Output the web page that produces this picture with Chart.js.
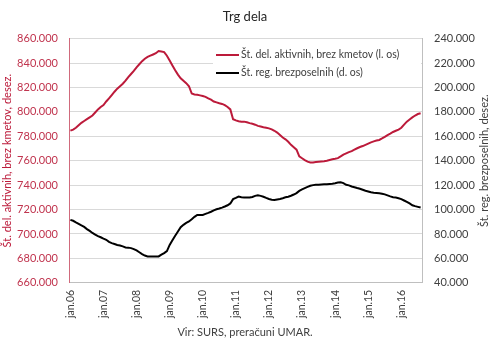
<!DOCTYPE html>
<html>
<head>
<meta charset="utf-8">
<script src="https://cdn.jsdelivr.net/npm/chart.js@4/dist/chart.umd.min.js"></script>
<style>
  html, body { margin: 0; padding: 0; background: #fff; }
  #wrap { width: 490px; height: 345px; }
</style>
</head>
<body>
<div id="wrap"><canvas id="trgChart" width="490" height="345"></canvas></div>
<script>
// mesečni podatki jan.06 - avg.16, v tisočih
var mesci = ["jan","feb","mar","apr","maj","jun","jul","avg","sep","okt","nov","dec"]
var leta = ["06","07","08","09","10","11","12","13","14","15","16"]

var aktivni = [
   784.6, 785.5, 787, 789, 791, 792.5, 794, 795.5, 797, 799.5, 802, 804,
   805.6, 808.5, 811, 813.8, 816.5, 819, 821, 823, 825.5, 828.5, 831, 833.5,
   836.5, 839, 841.5, 843.5, 845, 846, 847, 848, 849.8, 849.5, 849, 846,
   842, 838, 834, 830.5, 827.5, 825.5, 823.5, 821, 815, 814.3, 814, 813.5,
   813, 812.3, 811, 810, 808.5, 807.8, 807, 806.5, 805.5, 804, 802, 794,
   793, 792.3, 792, 792, 791.5, 790.8, 790.2, 789.5, 788.5, 788, 787.4, 787,
   786.5, 785.7, 784.5, 783, 781, 779, 777.5, 775.5, 773, 771, 769, 763.5,
   762, 760.5, 759.2, 758.5, 758.6, 759, 759.2, 759.4, 759.6, 759.9, 760.6, 761.2,
   761.6, 762.1, 763.5, 765, 766, 767, 767.8, 769, 770.2, 771.2, 772, 773,
   774, 775, 775.8, 776.5, 777, 778.2, 779.5, 781, 782.2, 783.5, 784.5, 785.5,
   787, 789.5, 792, 793.8, 795.5, 797, 798.2, 798.8
]

var brezposelni = [
   91.5, 90.8, 89.5, 88.3, 87, 85.8, 84, 82.5, 80.8, 79.5, 78.2, 77.3,
   76.2, 75.2, 73.5, 72.5, 71.8, 71, 70.5, 69.8, 69, 68.8, 68.4, 67.6,
   66.5, 65, 63.5, 62.3, 61.6, 61.5, 61.5, 61.5, 61.6, 63, 64.3, 66,
   71, 74.8, 78.5, 82, 85.5, 87.5, 89, 90.2, 92, 94, 95.6, 95.6,
   95.6, 96.5, 97.3, 98.2, 99.3, 100.2, 100.8, 101.6, 102.5, 103.5, 105, 108.5,
   109.5, 110.6, 110, 109.8, 109.8, 109.8, 110.3, 111.2, 111.7, 111.2, 110.5, 109.5,
   108.6, 108, 107.9, 108.3, 108.7, 109.3, 110, 110.5, 111.3, 112.3, 113.5, 115.3,
   116.5, 117.5, 118.5, 119.5, 120, 120.3, 120.4, 120.6, 120.7, 120.8, 121, 121.2,
   121.6, 122.1, 122.3, 121.6, 120.3, 119.8, 118.9, 118.3, 117.6, 117, 116.2, 115.4,
   114.8, 114.1, 113.8, 113.6, 113.4, 113, 112.4, 111.6, 110.8, 110.1, 109.8, 109.3,
   108.5, 107.4, 106.3, 105, 103.5, 102.8, 102.2, 101.6
]

var labels = []
for (var i = 0; i < aktivni.length; i++) {
   labels.push(mesci[i % 12] + "." + leta[Math.floor(i / 12)])
}

var RDECA = "#BC1A3A"
var FONT = "Lato"

function tisoc(v) {
   return v + ".000"
}

// legenda v grafu + naslova osi (berejo se od spodaj navzgor)
var dodatki = {
   id: "dodatki",
   beforeDatasetsDraw: function (chart) {
      var c = chart.ctx
      var a = chart.chartArea
      c.save()
      c.fillStyle = "#fff"
      c.fillRect(213, a.top + 3, a.right - 213 - 1, 42)
      var vrste = [
         { t: "Št. del. aktivnih, brez kmetov (l. os)", b: RDECA, y: 55 },
         { t: "Št. reg. brezposelnih (d. os)", b: "#000", y: 73 },
      ]
      c.font = "10.5px " + FONT
      c.textBaseline = "middle"
      vrste.forEach(function (v) {
         c.strokeStyle = v.b
         c.lineWidth = 2
         c.beginPath()
         c.moveTo(216, v.y)
         c.lineTo(239, v.y)
         c.stroke()
         c.fillStyle = "#404040"
         c.fillText(v.t, 241, v.y)
      })
      c.restore()
   },
   afterDraw: function (chart) {
      var c = chart.ctx
      var a = chart.chartArea
      var sred = (a.top + a.bottom) / 2
      c.save()
      c.font = "11px " + FONT
      c.textAlign = "center"
      c.textBaseline = "middle"
      c.translate(7, sred)
      c.rotate(-Math.PI / 2)
      c.fillStyle = RDECA
      c.fillText("Št. del. aktivnih, brez kmetov, desez.", 0, 0)
      c.restore()
      c.save()
      c.font = "11px " + FONT
      c.textAlign = "center"
      c.textBaseline = "middle"
      c.translate(484, sred)
      c.rotate(-Math.PI / 2)
      c.fillStyle = "#404040"
      c.fillText("Št. reg. brezposelnih, desez.", 0, 0)
      c.restore()
   },
}

var ctx = document.getElementById("trgChart").getContext("2d")
var chart = new Chart(ctx, {
   type: "line",
   data: {
      labels: labels,
      datasets: [
         {
            label: "Št. del. aktivnih, brez kmetov (l. os)",
            data: aktivni,
            borderColor: RDECA,
            borderWidth: 2,
            pointRadius: 0,
            yAxisID: "y",
         },
         {
            label: "Št. reg. brezposelnih (d. os)",
            data: brezposelni,
            borderColor: "#000",
            borderWidth: 2,
            pointRadius: 0,
            yAxisID: "y1",
         },
      ],
   },
   options: {
      responsive: false,
      animation: false,
      layout: { padding: 0 },
      plugins: {
         legend: { display: false },
         tooltip: { enabled: false },
         title: {
            display: true,
            text: "Trg dela",
            color: "#262626",
            font: { family: FONT, size: 13, weight: "normal" },
            padding: { top: 9, bottom: 14 },
         },
         subtitle: {
            display: true,
            position: "bottom",
            text: "Vir: SURS, preračuni UMAR.",
            color: "#404040",
            font: { family: FONT, size: 11 },
            padding: { top: 2, bottom: 6 },
         },
      },
      scales: {
         x: {
            offset: true,
            grid: { display: false, drawTicks: false },
            border: { color: "#BFBFBF" },
            ticks: {
               autoSkip: false,
               minRotation: 90,
               maxRotation: 90,
               padding: 7,
               color: "#404040",
               font: { family: FONT, size: 10.5 },
               callback: function (v, i) {
                  return i % 12 === 0 ? labels[i] : null
               },
            },
            afterFit: function (s) {
               s.height = 41
            },
         },
         y: {
            position: "left",
            min: 660,
            max: 860,
            grid: { color: "#D9D9D9", drawTicks: false },
            border: { color: "#D06A7C" },
            ticks: {
               stepSize: 20,
               padding: 11,
               color: "#C0344E",
               font: { family: FONT, size: 11 },
               callback: tisoc,
            },
            afterFit: function (s) {
               s.width = 69
            },
         },
         y1: {
            position: "right",
            min: 40,
            max: 240,
            grid: { drawOnChartArea: false, drawTicks: false },
            border: { color: "#BFBFBF" },
            ticks: {
               stepSize: 20,
               padding: 12,
               color: "#404040",
               font: { family: FONT, size: 11 },
               callback: tisoc,
            },
            afterFit: function (s) {
               s.width = 68
            },
         },
      },
   },
   plugins: [dodatki],
})
</script>
</body>
</html>
